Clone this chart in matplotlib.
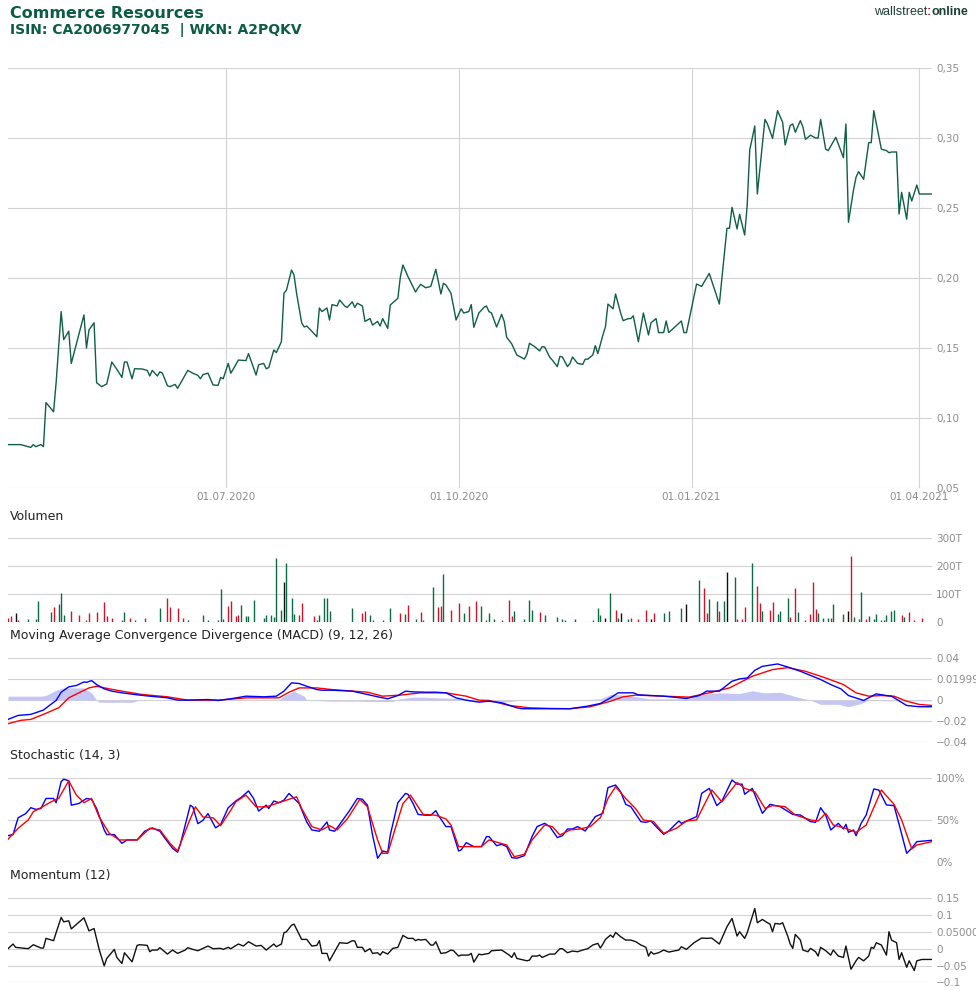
import numpy as np
import matplotlib
matplotlib.use("Agg")
import matplotlib.pyplot as plt

W, H = 976, 990
START = np.datetime64("2020-04-06")

# price (day offset from START, value)
price_day = [0, 5, 9, 10, 11, 13, 14, 15, 18, 19,
             21, 22, 24, 25, 30, 31, 32, 34, 35, 37,
             39, 41, 43, 45, 46, 47, 49, 50, 53, 55,
             56, 57, 59, 60, 61, 63, 64, 66, 67, 69,
             71, 73, 75, 76, 77, 79, 81, 83, 84, 85,
             87, 88, 89, 91, 94, 95, 98, 99, 101, 102,
             103, 105, 106, 108, 109, 110, 112, 113, 114, 116,
             117, 118, 120, 122, 123, 124, 126, 127, 128, 130,
             131, 133, 134, 136, 137, 138, 140, 141, 143, 144,
             146, 147, 148, 150, 151, 154, 155, 156, 158, 161,
             162, 163, 165, 167, 169, 171, 172, 173, 175, 177,
             179, 180, 182, 183, 184, 186, 188, 189, 190, 191,
             193, 195, 196, 197, 199, 201, 204, 205, 206, 208,
             210, 211, 212, 214, 215, 217, 218, 219, 221, 222,
             223, 225, 227, 228, 229, 231, 232, 233, 235, 236,
             237, 239, 240, 242, 243, 245, 246, 247, 249, 251,
             253, 254, 256, 257, 259, 260, 261, 266, 267, 268,
             272, 274, 277, 281, 282, 284, 285, 286, 288, 289,
             291, 292, 293, 295, 296, 299, 300, 302, 304, 306,
             307, 309, 310, 311, 313, 314, 315, 317, 319, 320,
             321, 323, 324, 327, 330, 331, 332, 334, 335, 336,
             338, 340, 341, 342, 345, 347, 348, 349, 351, 352,
             353, 355, 356, 357, 359, 360, 365]
price_val = [0.081, 0.081, 0.079, 0.081, 0.0795, 0.081, 0.0795, 0.111, 0.1045, 0.125,
             0.176, 0.156, 0.162, 0.139, 0.1736, 0.150, 0.163, 0.168, 0.1252, 0.1224,
             0.1243, 0.140, 0.1348, 0.129, 0.140, 0.140, 0.128, 0.1352, 0.135, 0.134,
             0.130, 0.134, 0.130, 0.133, 0.132, 0.123, 0.1224, 0.124, 0.1212, 0.1276,
             0.134, 0.132, 0.1305, 0.128, 0.131, 0.132, 0.1236, 0.1233, 0.129, 0.128,
             0.139, 0.132, 0.135, 0.1414, 0.141, 0.146, 0.1307, 0.138, 0.139, 0.1352,
             0.136, 0.1486, 0.1467, 0.1545, 0.189, 0.1914, 0.2057, 0.202, 0.189, 0.168,
             0.165, 0.1657, 0.162, 0.158, 0.1786, 0.176, 0.1786, 0.170, 0.181, 0.180,
             0.1843, 0.180, 0.179, 0.183, 0.179, 0.182, 0.180, 0.169, 0.171, 0.1664,
             0.169, 0.1657, 0.171, 0.164, 0.1807, 0.1855, 0.201, 0.2093, 0.201, 0.190,
             0.193, 0.1955, 0.193, 0.194, 0.2062, 0.1886, 0.1962, 0.195, 0.189, 0.170,
             0.178, 0.175, 0.176, 0.181, 0.1648, 0.175, 0.179, 0.180, 0.176, 0.175,
             0.165, 0.174, 0.169, 0.1576, 0.1529, 0.145, 0.1421, 0.1457, 0.1534, 0.151,
             0.1479, 0.151, 0.1507, 0.1434, 0.1414, 0.1367, 0.144, 0.1436, 0.1367, 0.139,
             0.1436, 0.139, 0.1383, 0.142, 0.142, 0.145, 0.1517, 0.146, 0.1593, 0.1652,
             0.1814, 0.178, 0.1886, 0.175, 0.1695, 0.171, 0.171, 0.173, 0.1545, 0.175,
             0.1593, 0.168, 0.171, 0.161, 0.161, 0.1693, 0.161, 0.1693, 0.161, 0.161,
             0.1957, 0.194, 0.2033, 0.1814, 0.1998, 0.2355, 0.2355, 0.2505, 0.235, 0.2455,
             0.2307, 0.2521, 0.2914, 0.3086, 0.260, 0.3133, 0.310, 0.2998, 0.3195, 0.3112,
             0.295, 0.309, 0.310, 0.3041, 0.3124, 0.308, 0.299, 0.302, 0.300, 0.300,
             0.3133, 0.292, 0.291, 0.3005, 0.286, 0.310, 0.2398, 0.263, 0.272, 0.276,
             0.2705, 0.2967, 0.2967, 0.3195, 0.292, 0.291, 0.2895, 0.290, 0.290, 0.2457,
             0.2612, 0.242, 0.2612, 0.255, 0.2664, 0.260, 0.260]

# volume in thousands, direction u=up d=down n=unchanged
vol_day = [0, 1, 3, 4, 8, 11, 12, 17, 18, 20, 21, 22, 25, 28, 31, 32, 35, 38, 39, 41,
           45, 46, 48, 50, 54, 60, 63, 64, 67, 69, 71, 77, 79, 83, 84, 85, 87, 88, 90, 91,
           92, 94, 95, 97, 101, 102, 104, 105, 106, 108, 109, 110, 112, 113, 115, 116, 121, 122, 123, 125,
           126, 127, 136, 140, 141, 143, 144, 148, 151, 155, 157, 158, 161, 163, 164, 168, 170, 171, 172, 175,
           178, 180, 182, 185, 187, 189, 190, 192, 195, 198, 199, 200, 204, 206, 207, 210, 212, 217, 219, 220,
           224, 231, 233, 234, 236, 238, 240, 241, 242, 245, 246, 249, 252, 254, 255, 259, 261, 266, 268, 273,
           275, 276, 277, 280, 281, 283, 284, 287, 288, 290, 291, 294, 296, 297, 298, 301, 302, 304, 305, 308,
           309, 311, 312, 315, 317, 318, 319, 320, 322, 324, 325, 326, 330, 332, 333, 334, 336, 337, 339, 340,
           342, 343, 345, 346, 347, 349, 350, 353, 354, 356, 358, 361]
vol_val = [14, 20, 30, 6, 8, 8, 74, 34, 52, 64, 102, 24, 38, 24, 6, 30, 34, 71, 20, 12,
           6, 34, 12, 6, 12, 48, 85, 53, 48, 12, 6, 24, 6, 6, 118, 10, 56, 73, 20, 24,
           60, 20, 20, 78, 14, 24, 24, 17, 228, 42, 142, 210, 85, 28, 24, 67, 20, 6, 24, 85,
           85, 38, 48, 30, 38, 24, 6, 6, 48, 30, 28, 60, 10, 34, 6, 124, 54, 56, 172, 42,
           67, 30, 56, 73, 56, 6, 30, 10, 6, 78, 20, 38, 10, 78, 42, 34, 24, 17, 10, 6,
           10, 6, 48, 24, 14, 102, 42, 12, 30, 10, 14, 10, 42, 10, 31, 30, 38, 48, 62, 150,
           120, 30, 82, 74, 38, 74, 179, 162, 10, 10, 53, 210, 128, 66, 38, 42, 71, 28, 38, 85,
           17, 120, 34, 6, 28, 142, 46, 30, 14, 14, 14, 64, 28, 38, 236, 17, 10, 106, 10, 20,
           10, 28, 6, 6, 24, 38, 42, 24, 17, 34, 6, 14]
vol_dir = ["d", "d", "n", "d", "u", "u", "u", "u", "d", "u", "u", "u", "d", "d", "d", "d", "d", "d", "d", "d",
           "d", "u", "d", "u", "d", "u", "d", "d", "d", "d", "u", "u", "u", "u", "u", "u", "d", "d", "d", "d",
           "u", "u", "u", "u", "u", "u", "u", "u", "u", "u", "n", "u", "u", "u", "d", "d", "d", "d", "u", "u",
           "u", "u", "u", "d", "d", "u", "d", "u", "u", "d", "u", "d", "u", "d", "u", "u", "d", "d", "u", "d",
           "d", "u", "d", "d", "u", "u", "u", "u", "d", "d", "d", "u", "u", "u", "u", "d", "u", "u", "u", "u",
           "u", "u", "u", "u", "n", "u", "d", "u", "n", "u", "d", "d", "d", "n", "d", "u", "u", "u", "n", "u",
           "d", "d", "u", "u", "d", "u", "n", "u", "d", "d", "d", "u", "d", "d", "u", "d", "d", "u", "u", "u",
           "d", "d", "u", "u", "d", "d", "d", "u", "u", "u", "d", "u", "u", "n", "d", "u", "u", "u", "d", "u",
           "u", "u", "u", "u", "u", "u", "u", "d", "u", "d", "d", "d"]

# MACD line, signal line and histogram
macd_day = [0, 4, 9, 14, 16, 19, 21, 24, 27, 30, 31, 33, 35, 38, 41, 45, 51, 56, 63, 67,
            71, 79, 83, 88, 94, 101, 106, 109, 112, 115, 118, 122, 124, 128, 136, 142, 146, 150, 154, 157,
            160, 165, 169, 173, 177, 181, 186, 190, 195, 201, 203, 211, 222, 229, 234, 238, 241, 247, 249, 259,
            268, 273, 276, 281, 286, 289, 292, 295, 298, 304, 308, 313, 321, 325, 329, 332, 338, 343, 347, 349,
            355, 360, 365]
macd_val = [-0.0184, -0.0146, -0.0136, -0.0095, -0.0057, -0.0003, 0.0076, 0.0127, 0.014, 0.0174,
            0.017, 0.0187, 0.0149, 0.0108, 0.0086, 0.007, 0.0051, 0.0038, 0.0022, 0.0,
            0.0, 0.0006, -0.0003, 0.0013, 0.0038, 0.0032, 0.0038, 0.0086, 0.0165, 0.0159,
            0.0133, 0.0101, 0.0095, 0.0095, 0.0086, 0.0054, 0.0032, 0.0013, 0.0044, 0.0086,
            0.0079, 0.0076, 0.0076, 0.007, 0.0022, 0.0, -0.0019, -0.001,
            -0.0025, -0.0073, -0.0082, -0.0082, -0.0082, -0.0057, -0.0032, 0.0022, 0.007, 0.007,
            0.0051, 0.0038, 0.0016, 0.0044, 0.0086, 0.0086, 0.0181, 0.0203, 0.0212, 0.0285,
            0.0323, 0.0346, 0.0317, 0.0276, 0.0197, 0.0149, 0.0108, 0.0044, -0.0003, 0.006,
            0.0044, 0.0038, -0.0051, -0.0063, -0.0063]
signal_day = [0, 5, 9, 14, 20, 24, 28, 32, 35, 40, 45, 53, 63, 71, 83, 94, 107, 111, 115, 122,
              128, 142, 148, 155, 163, 173, 181, 186, 190, 198, 206, 214, 222, 230, 238, 243, 248, 259, 269, 277,
              285, 294, 302, 308, 315, 323, 330, 335, 340, 345, 350, 355, 360, 365]
signal_val = [-0.0225, -0.0193, -0.0184, -0.0136, -0.0073, 0.0022, 0.007, 0.0117, 0.0133, 0.0108,
              0.0086, 0.0054, 0.0032, 0.0, 0.0, 0.0022, 0.0022, 0.0076, 0.0117, 0.0117,
              0.0101, 0.0076, 0.0038, 0.0048, 0.007, 0.007, 0.0038, 0.0, -0.0003,
              -0.0051, -0.0073, -0.0079, -0.0082, -0.0063, -0.001, 0.0032, 0.0048, 0.0038, 0.0029,
              0.007, 0.0117, 0.0228, 0.0292, 0.0311, 0.0276, 0.0212, 0.0149, 0.007, 0.0038,
              0.0044, 0.0038, -0.001, -0.0041, -0.0051]
hist_day = [0, 13, 15, 19, 22, 30, 33, 35, 36, 49, 52, 107, 109, 113, 117, 118, 128, 139, 142, 152,
            154, 160, 163, 180, 182, 192, 196, 202, 226, 234, 238, 242, 247, 253, 269, 273, 281, 289, 294, 299,
            305, 313, 317, 321, 328, 332, 337, 340, 346, 365]
hist_val = [0.0038, 0.0038, 0.0045, 0.0095, 0.0117, 0.0117, 0.007, 0.0, -0.002, -0.002,
            0.0, 0.0, 0.004, 0.0086, 0.0038, 0.0, -0.001, -0.001, -0.0013, -0.0013,
            0.001, 0.0029, 0.0029, 0.0013, -0.001, -0.0013, -0.002, 0.0, 0.0, 0.0013,
            0.0054, 0.005, 0.0038, 0.0013, 0.0013, 0.0054, 0.007, 0.0063, 0.009, 0.007,
            0.0076, 0.0022, 0.0, -0.004, -0.004, -0.0063, -0.0032, 0.0, -0.0006, -0.0006]

# Stochastic %K and %D
stk_day = [0, 2, 4, 7, 9, 11, 13, 15, 18, 19, 21, 22, 24, 25, 28, 31, 33, 35, 38, 39,
           42, 45, 47, 51, 54, 57, 60, 62, 65, 67, 68, 72, 73, 75, 77, 79, 82, 84, 87, 90,
           92, 95, 97, 99, 102, 103, 105, 107, 109, 111, 113, 115, 118, 120, 123, 126, 127, 129, 131, 135,
           138, 140, 142, 144, 146, 148, 150, 151, 154, 157, 158, 160, 162, 165, 167, 169, 170, 173, 175, 178,
           179, 181, 184, 187, 189, 190,
           193, 195, 197, 199, 201, 204, 207, 209, 212, 214, 217, 219, 221, 223, 225, 228, 232, 235, 237, 240,
           242, 244, 246, 250, 252, 254, 256, 259, 261, 265, 266, 272, 274, 277, 280, 282, 286, 288, 290, 291,
           294, 298, 301, 305, 310, 313, 317, 319, 321, 323, 325, 328, 330, 331, 332, 334, 335, 337, 339, 342,
           344, 347, 350, 352, 355, 357, 359, 365]
stk_val = [31.7, 33, 53, 58, 65, 63, 64, 76, 76, 71, 96, 99, 97, 68, 70, 76, 75, 64, 38.5, 33,
           33, 22.6, 26.6, 26.6, 37, 41, 37, 28.6, 16.7, 12, 20.6, 68, 66, 46, 50, 58, 41, 45, 65, 73,
           77, 85, 76, 61, 68, 64, 73, 71, 74, 82, 76, 70, 48, 38.5, 37, 48, 38.5, 37, 45, 62,
           76, 75, 68, 32.5, 4.8, 13.5, 12, 32.5, 71, 82, 81, 70, 57, 56, 56, 61.5, 56, 42.5, 42.5, 13.5,
           14.7, 23.4, 18.7, 18.7, 30.6, 30.6,
           19.8, 21.4, 18.7, 5.6, 4.8, 7.9, 30.6, 42.5, 46.4, 42.5, 29.4, 31.7, 39.7, 39.7, 42.5, 37.3, 54.4, 58.3, 88.9, 92,
           84, 69, 66.3, 48.4, 47.6, 49.2, 42.5, 33.3, 37.3, 49.2, 46.4, 54.4, 82, 88, 67.5, 73, 98, 93, 93, 81,
           88, 58.3, 69, 66.3, 57, 56.3, 48.4, 47.6, 65, 56.3, 38.5, 46.4, 39.7, 45.2, 35.7, 38.5, 31.7, 46.4, 56.3, 87.3,
           86, 68.3, 67.5, 45.2, 10.7, 16.7, 24.6, 26.2]
std_day = [0, 4, 8, 10, 13, 17, 20, 24, 27, 30, 33, 36, 40, 44, 48, 51, 56, 60, 64, 67,
           71, 74, 77, 81, 84, 88, 90, 94, 98, 102, 106, 110, 114, 116, 120, 124, 127, 130, 134, 139,
           142, 146, 148, 150, 153, 156, 159, 162, 164, 169, 173, 175, 178, 182, 187, 190,
           197, 200, 204, 207, 212, 215, 218, 222, 226, 230, 234, 237, 240, 244, 248, 251, 255, 259, 264, 268,
           272, 278, 282, 288, 291, 295, 299, 302, 307, 311, 317, 320, 323, 326, 330, 335, 339, 345, 350, 353,
           357, 359, 365]
std_val = [27.4, 40.5, 50.4, 60.3, 65, 72, 76, 97, 80, 71, 76, 54, 34.5, 26.6, 26.6, 26.6, 40.5, 38.5, 22.6, 13.5,
           44.4, 66, 54, 53, 43.7, 62, 72, 80, 66, 66, 70, 74, 78, 64, 42.5, 38.5, 43.7, 38.5, 51.6, 75,
           66, 26.6, 10.7, 10.7, 40.5, 70, 80, 66, 57, 56, 51.6, 44.4, 18.7, 18.7, 18.7, 26.6,
           20.6, 6.7, 9.5, 26.6, 44.4, 42.5, 32.5, 38.5, 39.7, 42.5, 53.2, 76, 90, 76, 63.5, 50.4, 48.4, 34.5, 40.5, 49.2,
           50.4, 86, 72, 95, 88, 84, 64.3, 67.5, 66.3, 56.3, 50.4, 49.2, 58.3, 44.4, 41.3, 35.7, 44.4, 86, 69, 50.4,
           15.9, 20.6, 24.6]

# Momentum (12)
mom_day = [0, 2, 3, 8, 10, 13, 14, 15, 18, 19, 21, 22, 24, 25, 30, 32, 34, 36, 38, 39,
           42, 43, 45, 46, 49, 51, 52, 55, 56, 57, 59, 60, 63, 65, 67, 70, 71, 73, 75, 79,
           81, 84, 85, 87, 88, 91, 93, 95, 98, 100, 102, 105, 106, 108, 109, 110, 112, 113, 116, 118,
           120, 122, 123, 124, 126, 127, 131, 134, 136, 137, 138, 140, 141, 143, 144, 146, 147, 148, 150, 152,
           154, 156, 158, 160, 161, 162, 163, 165, 167, 168, 169, 171, 173, 175, 176, 178, 179, 182, 183, 184,
           186, 187, 190,
           191, 195, 198, 199, 200, 201, 205, 206, 207, 209, 210, 211, 214, 216, 218, 219, 221, 223, 225, 227,
           229, 231, 233, 234, 235, 236, 238, 239, 240, 242, 244, 246, 248, 250, 251, 252, 253, 254, 255, 257,
           259, 261, 265, 266, 268, 271, 274, 276, 278, 279, 281, 284, 286, 288, 289, 291, 292, 294, 295, 296,
           298, 300, 301, 302, 303, 305, 306, 308, 309, 310, 311, 313, 314, 316, 317, 319, 320, 321, 323, 325,
           326, 328, 330, 331, 333, 335, 336, 338, 340, 341, 342, 343, 345, 347, 348, 349, 351, 352, 353, 355,
           356, 358, 359, 361, 365]
mom_val = [0, 0.0139, 0.004, 0, 0.0119, 0.002, 0.002, 0.0307, 0.0238, 0.0475,
           0.093, 0.08, 0.083, 0.059, 0.092, 0.053, 0.06, -0.002, -0.051, -0.029,
           -0.002, -0.026, -0.044, -0.012, -0.039, 0.0099, 0.0119, 0.0099, -0.009, -0.004,
           -0.004, 0.003, -0.016, -0.004, -0.014, -0.004, 0.003, -0.002, -0.006, 0.0079,
           0, 0.001, -0.002, 0.004, 0, 0.0139, 0.0079, 0.0208, 0.0079, 0.0099,
           -0.004, 0.0139, 0.0059, 0.0139, 0.0475, 0.0505, 0.070, 0.073, 0.0277, 0.0277,
           0.0079, 0.0099, 0.0238, -0.014, -0.014, -0.036, 0.0178, 0.0158, 0.0238, 0.0228,
           0.004, 0.004, -0.009, 0, -0.014, -0.012, -0.019, -0.009, -0.016, 0.001,
           0.004, 0.0396, 0.0307, 0.0307, 0.0238, 0.0277, 0.0257, 0.0277, 0.0109, 0.0109,
           0.0208, -0.014, -0.012, -0.004, -0.006, -0.022, -0.019, -0.019, -0.014, -0.040,
           -0.016, -0.018, -0.014,
           -0.006, -0.004, -0.019, -0.026, -0.012, -0.029, -0.036, -0.034, -0.022, -0.022,
           -0.019, -0.026, -0.016, -0.016, 0, 0, -0.012, -0.007, -0.009, -0.004,
           0, 0.0109, 0.0158, 0.002, 0.0139, 0.0277, 0.0406, 0.0337, 0.0485, 0.0356,
           0.0257, 0.0257, 0.0208, 0.0109, 0.0079, 0.004, -0.022, -0.009, -0.016, -0.012,
           -0.004, -0.010, -0.004, 0.0059, -0.002, 0.0178, 0.0317, 0.0307, 0.0317, 0.0257,
           0.0139, 0.0653, 0.090, 0.0376, 0.0505, 0.0307, 0.0475, 0.095, 0.1198, 0.0772,
           0.0871, 0.0772, 0.0733, 0.0505, 0.0752, 0.0733, 0.0772,
           0.0376, 0.0139, 0.001, 0.0426, 0.0257, -0.004, -0.009, 0.001, -0.009, -0.022,
           0.004, -0.006, -0.019, -0.004, -0.022, -0.026, 0.0079, -0.061, -0.036, -0.026,
           -0.036, -0.022, 0.004, 0.001, 0.0178, 0.0109, -0.019, 0.0505, 0.0257, 0.0178,
           -0.032, -0.012, -0.0554, -0.036, -0.065, -0.036, -0.032, -0.032]

date_ticks = ["2020-07-01", "2020-10-01", "2021-01-01", "2021-04-01"]
date_labels = ["01.07.2020", "01.10.2020", "01.01.2021", "01.04.2021"]

GREEN = "#0b5c44"
LINE = "#0f5e45"
GRID = "#d3d3d3"
TICK = "#8c8c8c"
VOL_COLORS = {"u": "#0b6b45", "d": "#d0142c", "n": "#111111"}


def to_dates(days):
    return START + np.array(days, dtype="timedelta64[D]")


def panel(fig, top, bottom, left=8, right=932):
    ax = fig.add_axes([left / W, 1 - bottom / H, (right - left) / W, (bottom - top) / H])
    for s in ax.spines.values():
        s.set_visible(False)
    ax.set_xlim(START, START + np.timedelta64(365, "D"))
    ax.yaxis.tick_right()
    ax.tick_params(axis="y", length=0, pad=3, labelsize=7.5, labelcolor=TICK)
    ax.tick_params(axis="x", length=0)
    ax.grid(axis="y", color=GRID, lw=0.8)
    ax.set_axisbelow(True)
    ax.set_xticks([])
    return ax


def panel_title(fig, y, text):
    fig.text(10 / W, 1 - y / H, text, va="center", ha="left", fontsize=9, color="#222222")


def main():
    for name, a, b in [("price", price_day, price_val), ("vol", vol_day, vol_val), ("dir", vol_day, vol_dir),
                       ("macd", macd_day, macd_val), ("sig", signal_day, signal_val),
                       ("hist", hist_day, hist_val), ("k", stk_day, stk_val), ("d", std_day, std_val),
                       ("mom", mom_day, mom_val)]:
        assert len(a) == len(b), (name, len(a), len(b))

    fig = plt.figure(figsize=(W / 100, H / 100), dpi=100)
    fig.patch.set_facecolor("white")

    # header
    fig.text(10 / W, 1 - 14 / H, "Commerce Resources", fontsize=11.5, fontweight="bold",
             family="DejaVu Sans", color=GREEN, va="center")
    fig.text(10 / W, 1 - 30 / H, "ISIN: CA2006977045  | WKN: A2PQKV", fontsize=10, fontweight="bold",
             family="DejaVu Sans", color=GREEN, va="center")
    renderer = fig.canvas.get_renderer()
    t3 = fig.text(968 / W, 1 - 12 / H, "online", fontsize=9, fontweight="bold",
                  family="Liberation Sans", color="#1d3f33", va="center", ha="right")
    x0 = t3.get_window_extent(renderer).x0
    t2 = fig.text(x0 / W, 1 - 12 / H, ":", fontsize=9, fontweight="bold",
                  family="Liberation Sans", color="#d0142c", va="center", ha="right")
    x1 = t2.get_window_extent(renderer).x0
    fig.text(x1 / W, 1 - 12 / H, "wallstreet", fontsize=9,
             family="Liberation Sans", color="#1d3f33", va="center", ha="right")

    # price
    ax = panel(fig, 68, 488)
    ax.plot(to_dates(price_day), price_val, color=LINE, lw=1.0)
    ax.set_ylim(0.05, 0.35)
    yt = [0.05, 0.10, 0.15, 0.20, 0.25, 0.30, 0.35]
    ax.set_yticks(yt)
    ax.set_yticklabels([f"{v:.2f}".replace(".", ",") for v in yt])
    ax.set_xticks(np.array(date_ticks, dtype="datetime64[D]"))
    ax.set_xticklabels(date_labels)
    ax.tick_params(axis="x", labelsize=7.5, labelcolor=TICK, pad=3)
    ax.grid(axis="x", color=GRID, lw=0.8)

    # volume
    panel_title(fig, 516, "Volumen")
    ax = panel(fig, 538.3, 621.7)
    ax.vlines(to_dates(vol_day), 0, vol_val, colors=[VOL_COLORS[d] for d in vol_dir], lw=1.0)
    ax.set_ylim(0, 300)
    ax.set_yticks([0, 100, 200, 300])
    ax.set_yticklabels(["0", "100T", "200T", "300T"])

    # MACD
    panel_title(fig, 636, "Moving Average Convergence Divergence (MACD) (9, 12, 26)")
    ax = panel(fig, 658.3, 742)
    ax.fill_between(to_dates(hist_day), hist_val, 0, color="#c6c6f4", lw=0)
    ax.plot(to_dates(signal_day), signal_val, color="#ff0000", lw=1.0)
    ax.plot(to_dates(macd_day), macd_val, color="#0000ff", lw=1.0)
    ax.set_ylim(-0.04, 0.04)
    ax.set_yticks([-0.04, -0.02, 0, 0.02, 0.04])
    ax.set_yticklabels(["\u22120.04", "\u22120.02", "0", "0.01999", "0.04"])

    # Stochastic
    panel_title(fig, 755, "Stochastic (14, 3)")
    ax = panel(fig, 778.3, 862.3)
    ax.plot(to_dates(stk_day), stk_val, color="#0000ff", lw=1.0)
    ax.plot(to_dates(std_day), std_val, color="#ff0000", lw=1.0)
    ax.set_ylim(0, 100)
    ax.set_yticks([0, 50, 100])
    ax.set_yticklabels(["0%", "50%", "100%"])

    # Momentum
    panel_title(fig, 876, "Momentum (12)")
    ax = panel(fig, 898.3, 982.3)
    ax.plot(to_dates(mom_day), mom_val, color="#111111", lw=1.0)
    ax.set_ylim(-0.1, 0.15)
    ax.set_yticks([-0.1, -0.05, 0, 0.05, 0.1, 0.15])
    ax.set_yticklabels(["\u22120.1", "\u22120.05", "0", "0.05000", "0.1", "0.15"])

    fig.savefig("out.png", dpi=100, facecolor="white")
    plt.close(fig)


if __name__ == "__main__":
    main()
